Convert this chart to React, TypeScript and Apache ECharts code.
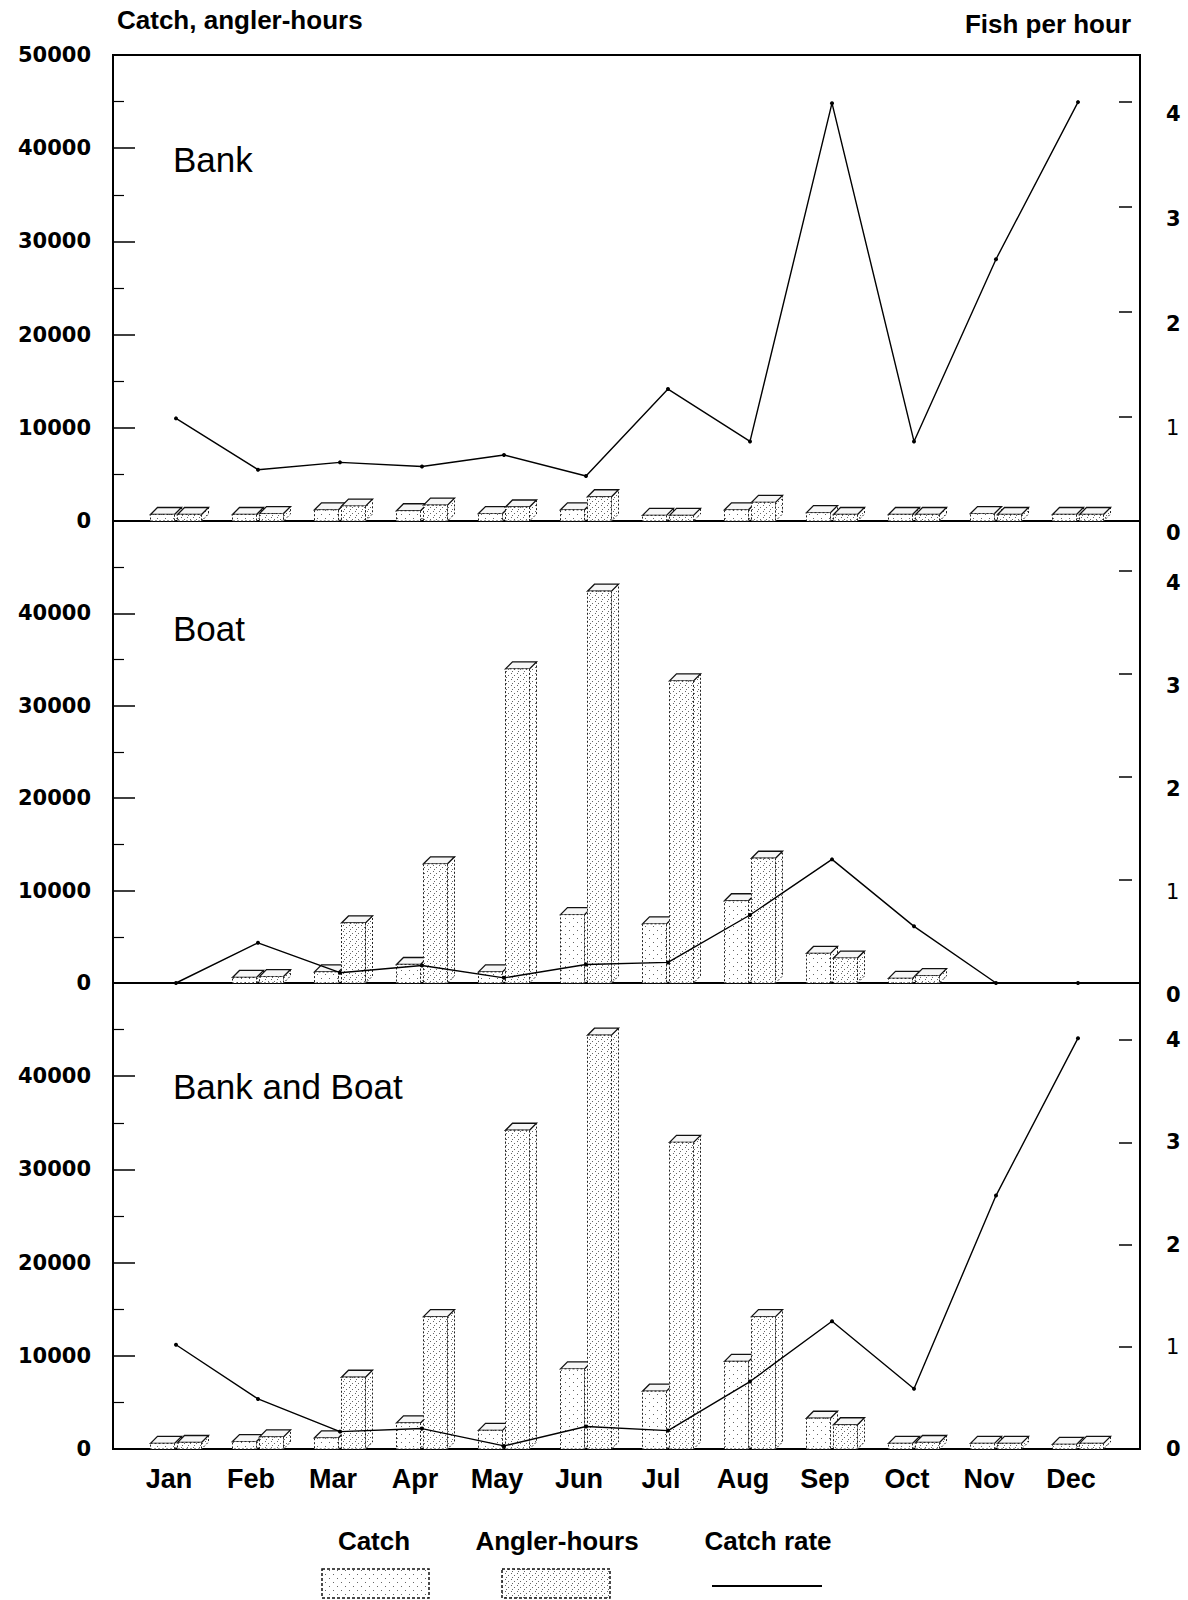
import React, { useEffect, useRef } from 'react';
import * as echarts from 'echarts';

// ---------- data ----------
const months = ['Jan', 'Feb', 'Mar', 'Apr', 'May', 'Jun', 'Jul', 'Aug', 'Sep', 'Oct', 'Nov', 'Dec'];

const bankCatch = [700, 700, 1200, 1100, 800, 1200, 600, 1200, 900, 700, 800, 700];
const bankAnglerHours = [700, 800, 1600, 1700, 1500, 2600, 600, 2000, 700, 700, 700, 700];
const bankCatchRate = [0.98, 0.49, 0.56, 0.52, 0.63, 0.43, 1.26, 0.76, 3.99, 0.76, 2.5, 4.0];

const boatCatch = [0, 600, 1200, 2000, 1200, 7400, 6400, 8900, 3200, 500, 0, 0];
const boatAnglerHours = [0, 700, 6500, 12900, 34000, 42400, 32700, 13500, 2700, 800, 0, 0];
const boatCatchRate = [0, 0.39, 0.1, 0.17, 0.05, 0.18, 0.2, 0.66, 1.2, 0.55, 0, 0];

const allCatch = [600, 800, 1200, 2800, 2000, 8600, 6200, 9400, 3300, 600, 600, 500];
const allAnglerHours = [700, 1300, 7700, 14200, 34200, 44400, 32900, 14200, 2600, 700, 600, 600];
const allCatchRate = [1.02, 0.49, 0.17, 0.2, 0.03, 0.22, 0.18, 0.66, 1.25, 0.59, 2.48, 4.02];

const panelTitles = ['Bank', 'Boat', 'Bank and Boat'];
const leftTitle = 'Catch, angler-hours';
const rightTitle = 'Fish per hour';
const legendNames = ['Catch', 'Angler-hours', 'Catch rate'];

const panelData = [
  { catchV: bankCatch, hours: bankAnglerHours, rate: bankCatchRate },
  { catchV: boatCatch, hours: boatAnglerHours, rate: boatCatchRate },
  { catchV: allCatch, hours: allAnglerHours, rate: allCatchRate },
];

// ---------- layout ----------
const PAGE_W = 1188;
const FRAME_L = 113;
const FRAME_R = 1140;
const DATA_L = 135;
const DATA_R = 1119;
const layout = [
  { top: 55, bottom: 521, rightMax: 4.45, titleY: 159, rightLabelShift: 12 },
  { top: 521, bottom: 983, rightMax: 4.485, titleY: 628, rightLabelShift: 12 },
  { top: 983, bottom: 1449, rightMax: 4.56, titleY: 1086, rightLabelShift: 0 },
];
const BAR_W = 24;
const GAP = 3;
const DEPTH = 7;

function makePattern(dots: number[][], size: number) {
  const c = document.createElement('canvas');
  c.width = size;
  c.height = size;
  const ctx = c.getContext('2d')!;
  ctx.fillStyle = '#ffffff';
  ctx.fillRect(0, 0, size, size);
  ctx.fillStyle = '#666666';
  dots.forEach(([x, y]) => ctx.fillRect(x, y, 1, 1));
  return { image: c.toDataURL(), repeat: 'repeat', imageWidth: size, imageHeight: size };
}

function barRenderer(side: number, fill: any) {
  return (params: any, api: any) => {
    const v = api.value(1);
    if (!v) return null;
    const base = api.coord([api.value(0), 0]);
    const top = api.coord([api.value(0), v]);
    const x0 = side < 0 ? base[0] - GAP / 2 - BAR_W : base[0] + GAP / 2;
    const x1 = x0 + BAR_W;
    const yb = base[1];
    const yt = top[1];
    return {
      type: 'group',
      children: [
        {
          type: 'polygon',
          shape: { points: [[x1, yb], [x1, yt], [x1 + DEPTH, yt - DEPTH], [x1 + DEPTH, yb - DEPTH]] },
          style: { fill, stroke: '#222', lineWidth: 1, lineDash: [2, 2] },
        },
        {
          type: 'polygon',
          shape: { points: [[x0, yt], [x0 + DEPTH, yt - DEPTH], [x1 + DEPTH, yt - DEPTH], [x1, yt]] },
          style: { fill: '#f6f6f6', stroke: '#111', lineWidth: 1.3 },
        },
        {
          type: 'rect',
          shape: { x: x0, y: yt, width: BAR_W, height: yb - yt },
          style: { fill, stroke: '#222', lineWidth: 1, lineDash: [2, 2] },
        },
      ],
    };
  };
}

function buildOption() {
  const catchFill = makePattern([[1, 2], [5, 6]], 8);
  const hoursFill = makePattern([[1, 1], [4, 3], [2, 5]], 6);
  const tickFont = { fontFamily: 'DejaVu Sans', fontWeight: 'bold', fontSize: 21, color: '#000' };

  const grid: any[] = [];
  const xAxis: any[] = [];
  const yAxis: any[] = [];
  const series: any[] = [];

  layout.forEach((L, p) => {
    const height = L.bottom - L.top;
    grid.push({
      left: FRAME_L, width: FRAME_R - FRAME_L, top: L.top, height,
      show: true, borderColor: '#000', borderWidth: 2, backgroundColor: 'transparent',
    });
    grid.push({ left: DATA_L, width: DATA_R - DATA_L, top: L.top, height });

    xAxis.push({ type: 'category', gridIndex: 2 * p, data: months, show: false });
    xAxis.push({
      type: 'category', gridIndex: 2 * p + 1, data: months,
      axisLine: { show: false }, axisTick: { show: false },
      axisLabel: {
        show: p === 2, margin: 16, padding: [0, 14, 0, 0],
        fontFamily: 'Liberation Sans', fontWeight: 'bold', fontSize: 27, color: '#000',
      },
    });

    const sh = L.rightLabelShift;
    yAxis.push({
      type: 'value', gridIndex: 2 * p, position: 'left', min: 0, max: 50000, interval: 10000,
      axisLine: { show: true, lineStyle: { color: '#000', width: 2 } },
      axisTick: { show: true, inside: true, length: 22, lineStyle: { color: '#000', width: 1.5 } },
      minorTick: { show: true, splitNumber: 2, length: 11, lineStyle: { color: '#000', width: 1.2 } },
      splitLine: { show: false },
      axisLabel: {
        ...tickFont, margin: 22,
        formatter: (v: number) => (p > 0 && v === 50000 ? '' : String(v)),
      },
    });
    yAxis.push({
      type: 'value', gridIndex: 2 * p, position: 'right', offset: -21, min: 0, max: L.rightMax, interval: 1,
      axisLine: { show: false },
      axisTick: { show: true, inside: false, length: 13, lineStyle: { color: '#000', width: 1.5 } },
      splitLine: { show: false },
      axisLabel: {
        margin: 47,
        padding: [sh * 2, 0, 0, 0],
        formatter: (v: number) => (Math.abs(v - Math.round(v)) < 1e-9 && v <= 4 ? (Math.round(v) === 1 ? '{r|1}' : `{b|${Math.round(v)}}`) : ''),
        rich: {
          b: { fontFamily: 'DejaVu Sans', fontWeight: 'bold', fontSize: 21, color: '#000' },
          r: { fontFamily: 'DejaVu Sans', fontWeight: 'normal', fontSize: 21, color: '#000' },
        },
      },
    });
    yAxis.push({ type: 'value', gridIndex: 2 * p + 1, min: 0, max: 50000, show: false, splitLine: { show: false } });
    yAxis.push({ type: 'value', gridIndex: 2 * p + 1, min: 0, max: L.rightMax, show: false, splitLine: { show: false } });

    const d = panelData[p];
    series.push({
      type: 'custom', name: legendNames[0], xAxisIndex: 2 * p + 1, yAxisIndex: 4 * p + 2,
      renderItem: barRenderer(-1, catchFill), data: d.catchV.map((v, i) => [i, v]),
      encode: { x: 0, y: 1 }, z: 2, silent: true, clip: false,
    });
    series.push({
      type: 'custom', name: legendNames[1], xAxisIndex: 2 * p + 1, yAxisIndex: 4 * p + 2,
      renderItem: barRenderer(1, hoursFill), data: d.hours.map((v, i) => [i, v]),
      encode: { x: 0, y: 1 }, z: 2, silent: true, clip: false,
    });
    series.push({
      type: 'line', name: legendNames[2], xAxisIndex: 2 * p + 1, yAxisIndex: 4 * p + 3,
      data: d.rate, symbol: 'circle', symbolSize: 4, showSymbol: true,
      lineStyle: { color: '#000', width: 1.4 }, itemStyle: { color: '#000' }, z: 5, silent: true,
    });
  });

  const graphic: any[] = [];
  layout.forEach((L, p) => {
    graphic.push({
      type: 'text', x: 173, y: L.titleY,
      style: { text: panelTitles[p], font: '35px "Liberation Sans"', fill: '#000', textVerticalAlign: 'middle' },
    });
  });
  graphic.push({
    type: 'text', x: 117, y: 20,
    style: { text: leftTitle, font: 'bold 26px "Liberation Sans"', fill: '#000', textVerticalAlign: 'middle' },
  });
  graphic.push({
    type: 'text', x: 1131, y: 24,
    style: { text: rightTitle, font: 'bold 26px "Liberation Sans"', fill: '#000', textAlign: 'right', textVerticalAlign: 'middle' },
  });
  const legendX = [374, 557, 768];
  legendNames.forEach((n, i) => {
    graphic.push({
      type: 'text', x: legendX[i], y: 1541,
      style: { text: n, font: 'bold 26px "Liberation Sans"', fill: '#000', textAlign: 'center', textVerticalAlign: 'middle' },
    });
  });
  graphic.push({
    type: 'rect', shape: { x: 322, y: 1569, width: 107, height: 29 },
    style: { fill: catchFill, stroke: '#111', lineWidth: 1.5, lineDash: [3, 2] },
  });
  graphic.push({
    type: 'rect', shape: { x: 502, y: 1569, width: 108, height: 29 },
    style: { fill: hoursFill, stroke: '#111', lineWidth: 1.5, lineDash: [3, 2] },
  });
  graphic.push({
    type: 'line', shape: { x1: 712, y1: 1586, x2: 822, y2: 1586 },
    style: { stroke: '#000', lineWidth: 2 },
  });

  return {
    animation: false,
    backgroundColor: '#ffffff',
    grid, xAxis, yAxis, series, graphic,
  };
}

export default function App() {
  const ref = useRef<HTMLDivElement>(null);
  useEffect(() => {
    document.body.style.margin = '0';
    const chart = echarts.init(ref.current!, null, { renderer: 'svg' });
    chart.setOption(buildOption() as any);
    return () => chart.dispose();
  }, []);
  return (
    <div
      ref={ref}
      style={{ position: 'absolute', left: 0, top: 0, width: PAGE_W, height: 1600, background: '#fff' }}
    />
  );
}
